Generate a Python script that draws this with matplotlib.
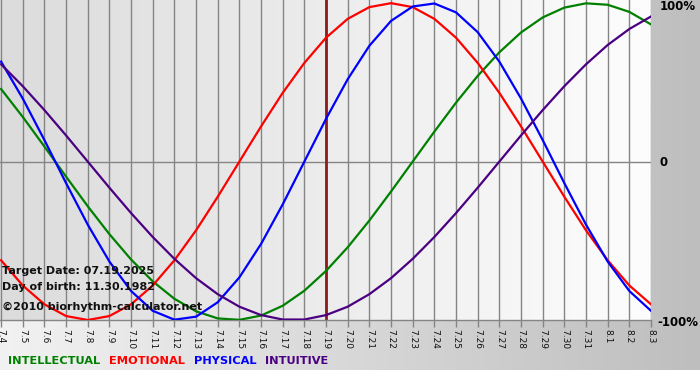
import numpy as np
import matplotlib
matplotlib.use("Agg")
import matplotlib.pyplot as plt
from matplotlib.colors import LinearSegmentedColormap

dates = ["7.4", "7.5", "7.6", "7.7", "7.8", "7.9", "7.10", "7.11", "7.12", "7.13",
         "7.14", "7.15", "7.16", "7.17", "7.18", "7.19", "7.20", "7.21", "7.22", "7.23",
         "7.24", "7.25", "7.26", "7.27", "7.28", "7.29", "7.30", "7.31", "8.1", "8.2", "8.3"]

physical = [0.631, 0.398, 0.136, -0.136, -0.398, -0.631, -0.817, -0.942, -0.998, -0.979,
            -0.888, -0.731, -0.520, -0.270, 0.000, 0.270, 0.520, 0.731, 0.888, 0.979,
            0.998, 0.942, 0.817, 0.631, 0.398, 0.136, -0.136, -0.398, -0.631, -0.817, -0.942]

emotional = [-0.623, -0.782, -0.901, -0.975, -1.000, -0.975, -0.901, -0.782, -0.623, -0.434,
             -0.222, 0.000, 0.222, 0.434, 0.623, 0.782, 0.901, 0.975, 1.000, 0.975,
             0.901, 0.782, 0.623, 0.434, 0.222, 0.000, -0.222, -0.434, -0.623, -0.782, -0.901]

intellectual = [0.458, 0.282, 0.095, -0.095, -0.282, -0.458, -0.618, -0.756, -0.866, -0.945,
                -0.990, -0.999, -0.972, -0.910, -0.815, -0.690, -0.541, -0.372, -0.189, 0.000,
                0.189, 0.372, 0.541, 0.690, 0.815, 0.910, 0.972, 0.999, 0.990, 0.945, 0.866]

intuitive = [0.614, 0.476, 0.325, 0.165, 0.000, -0.165, -0.325, -0.476, -0.614, -0.736,
             -0.837, -0.916, -0.969, -0.997, -0.997, -0.969, -0.916, -0.837, -0.736, -0.614,
             -0.476, -0.325, -0.165, 0.000, 0.165, 0.325, 0.476, 0.614, 0.736, 0.837, 0.916]

target_date = "7.19"
series_names = ["INTELLECTUAL", "EMOTIONAL", "PHYSICAL", "INTUITIVE"]
series_colors = ["#008000", "#ff0000", "#0000ff", "#4b0082"]

W, H = 700, 380
fig = plt.figure(figsize=(W / 100, H / 100), dpi=100)
fig.patch.set_facecolor("white")

# outer background gradient
bg = fig.add_axes([0, 0, 1, 1])
bg.set_xlim(0, W)
bg.set_ylim(H, 0)
bg.axis("off")
outer_cmap = LinearSegmentedColormap.from_list("outer", ["#f2f2f2", "#bebebe"])
grad = np.linspace(0, 1, 256).reshape(1, -1)
bg.imshow(grad, cmap=outer_cmap, extent=(0, W, 370, 0), aspect="auto", zorder=0)

# plot area
pl, pr, pt, pb = 0, 651, 0, 320
ax = fig.add_axes([pl / W, 1 - pb / H, (pr - pl) / W, (pb - pt) / H])
x = np.arange(len(dates))
ax.set_xlim(-0.05, len(dates) - 1)
ax.set_ylim(-1.0, 1.02)
inner_cmap = LinearSegmentedColormap.from_list("inner", ["#dcdcdc", "#fdfdfd"])
ax.imshow(grad, cmap=inner_cmap, extent=(-0.05, len(dates) - 1, -1.0, 1.02),
          aspect="auto", zorder=0)

for xi in x:
    ax.axvline(xi, color="#858585", lw=1.0, zorder=1)
ax.axhline(0, color="#858585", lw=1.0, zorder=1)
ax.axvline(dates.index(target_date), color="#8b1c1c", lw=2.0, zorder=2)

for vals, c in zip([intellectual, emotional, physical, intuitive], series_colors):
    ax.plot(x, vals, color=c, lw=1.6, zorder=3, solid_joinstyle="round")

for s in ["top", "left", "right"]:
    ax.spines[s].set_visible(False)
ax.spines["bottom"].set_color("#858585")
ax.spines["bottom"].set_linewidth(1.0)
ax.set_yticks([])
ax.set_xticks(x)
ax.set_xticklabels(dates, rotation=-90, fontsize=6.5, color="#111111")
ax.tick_params(axis="x", length=5, width=1, color="#858585", pad=1.5)

# right labels
fig.text(660 / W, 1 - 7 / H, "100%", fontsize=8.5, fontweight="bold", va="center", ha="left")
fig.text(660 / W, 1 - 162 / H, "0", fontsize=8.5, fontweight="bold", va="center", ha="left")
fig.text(657 / W, 1 - 322 / H, "-100%", fontsize=8.5, fontweight="bold", va="center", ha="left")

# info text
fig.text(2 / W, 1 - 271 / H, "Target Date: 07.19.2025", fontsize=8, fontweight="bold",
         va="center", ha="left", color="#111111")
fig.text(2 / W, 1 - 287 / H, "Day of birth: 11.30.1982", fontsize=8, fontweight="bold",
         va="center", ha="left", color="#111111")
fig.text(2 / W, 1 - 307 / H, "\u00a92010 biorhythm-calculator.net", fontsize=8, fontweight="bold",
         va="center", ha="left", color="#111111")

# legend
xpos = 8
for name, c in zip(series_names, series_colors):
    t = fig.text(xpos / W, 1 - 361 / H, name, fontsize=8.2, fontweight="bold",
                 color=c, va="center", ha="left")
    fig.canvas.draw()
    bb = t.get_window_extent()
    xpos = bb.x1 + 9

fig.savefig("out.png", dpi=100)
